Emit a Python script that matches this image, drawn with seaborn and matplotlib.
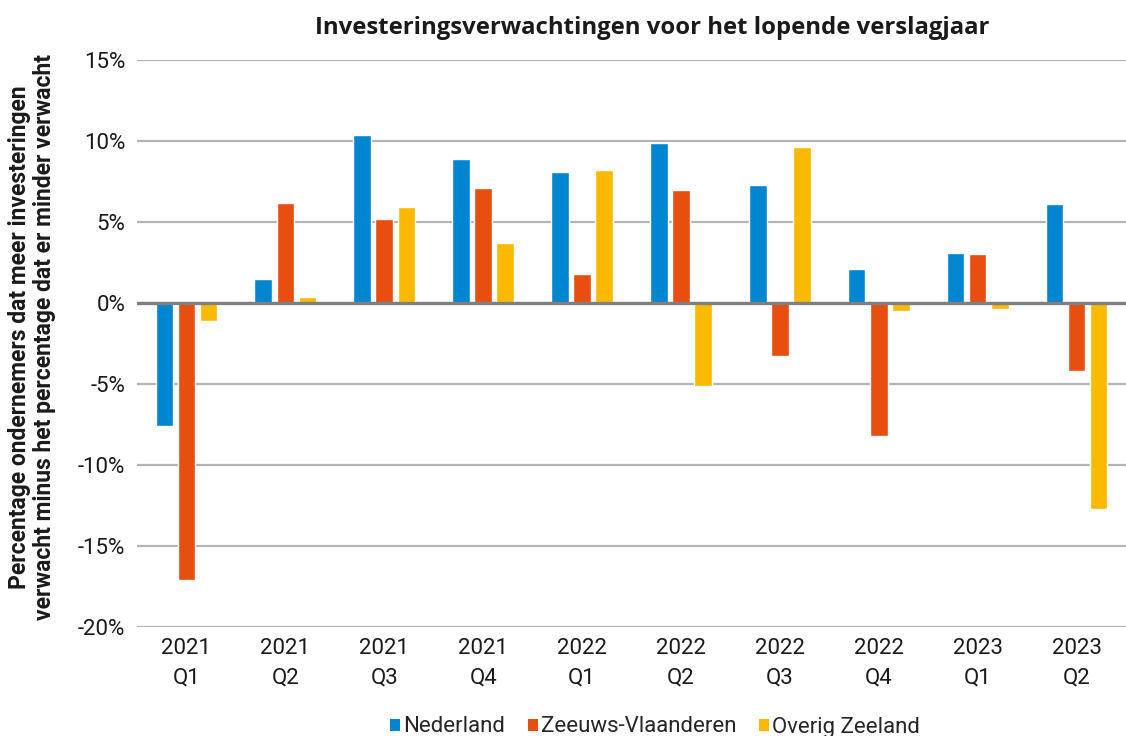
import matplotlib
matplotlib.use("Agg")
import matplotlib.pyplot as plt
import seaborn as sns
import pandas as pd
from matplotlib.ticker import FuncFormatter, FixedLocator
from matplotlib.patches import Patch

quarters = ["2021\nQ1", "2021\nQ2", "2021\nQ3", "2021\nQ4", "2022\nQ1",
            "2022\nQ2", "2022\nQ3", "2022\nQ4", "2023\nQ1", "2023\nQ2"]
series = ["Nederland", "Zeeuws-Vlaanderen", "Overig Zeeland"]
nederland = [-7.6, 1.5, 10.4, 8.9, 8.1, 9.9, 7.3, 2.1, 3.1, 6.1]
zeeuws_vlaanderen = [-17.1, 6.2, 5.2, 7.1, 1.8, 7.0, -3.3, -8.2, 3.0, -4.2]
overig_zeeland = [-1.1, 0.4, 5.9, 3.7, 8.2, -5.1, 9.6, -0.5, -0.4, -12.7]
colors = ["#0086D1", "#E84E0F", "#FBBA00"]
yticks = [-20, -15, -10, -5, 0, 5, 10, 15]
title = "Investeringsverwachtingen voor het lopende verslagjaar"
ylabel = ("Percentage ondernemers dat meer investeringen\n"
          "verwacht minus het percentage dat er minder verwacht")

df = pd.DataFrame({
    "kwartaal": quarters * 3,
    "regio": [series[0]] * 10 + [series[1]] * 10 + [series[2]] * 10,
    "waarde": nederland + zeeuws_vlaanderen + overig_zeeland,
})

sns.set_theme(style="white")
plt.rcParams["font.family"] = ["Roboto", "DejaVu Sans"]
plt.rcParams["axes.unicode_minus"] = False

W, H = 1126, 736
fig = plt.figure(figsize=(W / 100, H / 100), dpi=100)
ax = fig.add_axes([137 / W, (H - 627) / H, (W - 137) / W, (627 - 60) / H])

sns.barplot(data=df, x="kwartaal", y="waarde", hue="regio", order=quarters,
            hue_order=series, palette=colors, width=0.67, gap=0.2,
            saturation=1, ax=ax, legend=False, zorder=3)

ax.set_ylim(-20, 15)
ax.set_xlim(-0.5, 9.5)
ax.yaxis.set_major_locator(FixedLocator(yticks))
ax.yaxis.set_major_formatter(FuncFormatter(lambda v, p: f"{int(round(v))}%"))
ax.grid(axis="y", color="#b4b4b4", linewidth=1.6, zorder=0)
ax.axhline(0, color="#7f7f7f", linewidth=2.4, zorder=4)
for s in ax.spines.values():
    s.set_visible(False)
ax.tick_params(axis="y", labelsize=16, pad=8.5, length=0, labelcolor="#1a1a1a")
ax.tick_params(axis="x", labelsize=16, pad=8, length=0, labelcolor="#1a1a1a")
for lab in ax.get_xticklabels():
    lab.set_linespacing(1.55)
ax.set_xlabel("")
ax.set_ylabel("")

fig.text(652 / W, 1 - 28 / H, title, ha="center", va="center",
         fontsize=17.2, fontweight="bold", color="#1a1a1a",
         family=["Open Sans", "DejaVu Sans"])
fig.text(32 / W, 1 - 337 / H, ylabel, ha="center", va="center",
         rotation=90, fontsize=16.5, fontweight="bold", color="#1a1a1a",
         linespacing=1.15)

handles = [Patch(facecolor=c, edgecolor="none") for c in colors]
fig.legend(handles, series, ncol=3, loc="center",
           bbox_to_anchor=(655 / W, 1 - 727 / H), frameon=False,
           fontsize=16, handlelength=0.45, handleheight=0.45,
           handletextpad=0.15, columnspacing=1.0, borderpad=0)

fig.savefig("out.png", dpi=100)
